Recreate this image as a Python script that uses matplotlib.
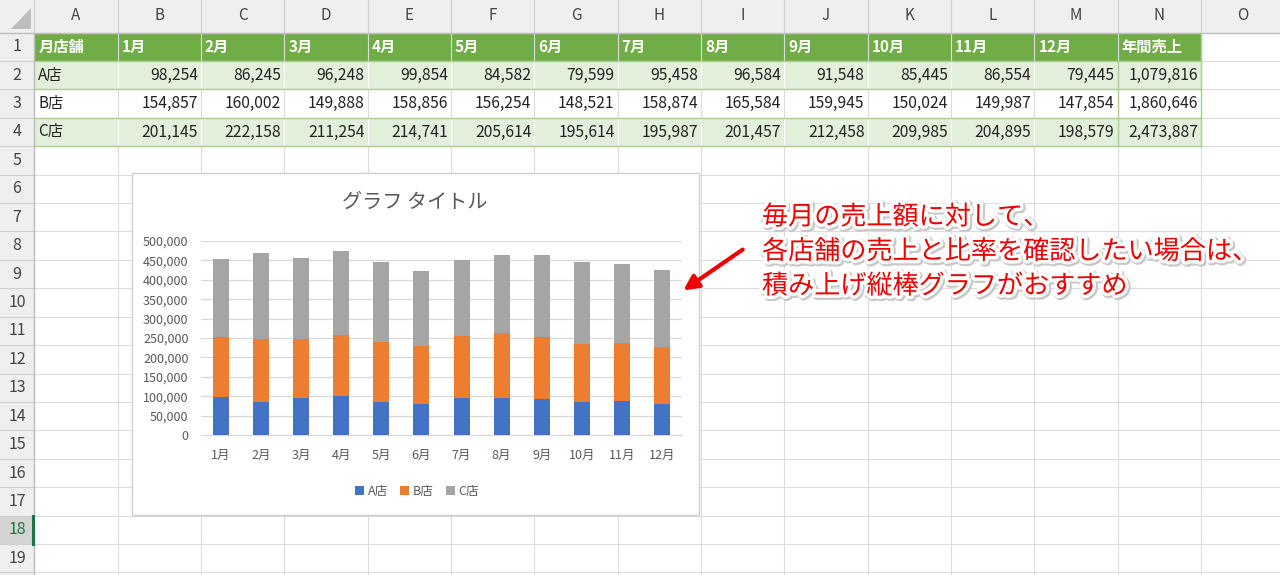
import matplotlib.pyplot as plt
import matplotlib.patheffects as pe
from matplotlib.patches import Rectangle, Polygon, Patch
from matplotlib.ticker import FuncFormatter
import numpy as np

plt.rcParams['font.family'] = ['Noto Sans CJK JP', 'DejaVu Sans']

# --- data ---
months = ['1月', '2月', '3月', '4月', '5月', '6月', '7月', '8月', '9月', '10月', '11月', '12月']
stores = ['A店', 'B店', 'C店']
sales_a = [98254, 86245, 96248, 99854, 84582, 79599, 95458, 96584, 91548, 85445, 86554, 79445]
sales_b = [154857, 160002, 149888, 158856, 156254, 148521, 158874, 165584, 159945, 150024, 149987, 147854]
sales_c = [201145, 222158, 211254, 214741, 205614, 195614, 195987, 201457, 212458, 209985, 204895, 198579]
col_letters = list('ABCDEFGHIJKLMNO')
header_row = ['月店舗'] + months + ['年間売上']
chart_title = 'グラフ タイトル'
note_lines = ['毎月の売上額に対して、', '各店舗の売上と比率を確認したい場合は、', '積み上げ縦棒グラフがおすすめ']
store_colors = ['#4472C4', '#ED7D31', '#A5A5A5']

# sheet geometry in pixels
COL0, COLW = 34.3, 83.33
ROW0, ROWH = 32.5, 28.42
NROWS = 19

fig = plt.figure(figsize=(12.8, 5.75), dpi=100)
bg = fig.add_axes([0, 0, 1, 1])
bg.set_xlim(0, 1280)
bg.set_ylim(575, 0)
bg.axis('off')

# headers
bg.add_patch(Rectangle((0, 0), 1280, ROW0, fc='#EFEFEF', ec='none'))
bg.add_patch(Rectangle((0, ROW0), COL0, 575 - ROW0, fc='#EFEFEF', ec='none'))
bg.add_patch(Polygon([(31, 8), (31, 29), (11, 29)], fc='#BDBDBD', ec='none'))
sel = 17
bg.add_patch(Rectangle((0, ROW0 + sel * ROWH), COL0, ROWH, fc='#D4D4D4', ec='none'))

for k in range(16):
    x = COL0 + k * COLW
    bg.plot([x, x], [0, ROW0], color='#D0D0D0', lw=0.8)
    bg.plot([x, x], [ROW0, 575], color='#DCDCDC', lw=0.8)
for k in range(NROWS + 1):
    y = ROW0 + k * ROWH
    bg.plot([0, COL0], [y, y], color='#D0D0D0', lw=0.8)
    bg.plot([COL0, 1280], [y, y], color='#DCDCDC', lw=0.8)
bg.plot([0, 1280], [ROW0, ROW0], color='#BDBDBD', lw=1)
bg.plot([COL0, COL0], [ROW0, 575], color='#BDBDBD', lw=1)
bg.plot([COL0 - 1, COL0 - 1], [ROW0 + sel * ROWH, ROW0 + (sel + 1) * ROWH], color='#217346', lw=2.2)

for k, c in enumerate(col_letters):
    bg.text(COL0 + (k + 0.5) * COLW, 16, c, ha='center', va='center', fontsize=11, color='#444444')
for k in range(NROWS):
    bg.text(17, ROW0 + (k + 0.5) * ROWH, str(k + 1), ha='center', va='center', fontsize=11.5,
            color='#217346' if k == sel else '#444444')

# table
ncol = len(header_row)
right = COL0 + ncol * COLW
bg.add_patch(Rectangle((COL0, ROW0), ncol * COLW, ROWH, fc='#70AD47', ec='none'))
for r in (1, 3):
    bg.add_patch(Rectangle((COL0, ROW0 + r * ROWH), ncol * COLW, ROWH, fc='#E2EFDA', ec='none'))
    for k in range(1, ncol - 1):
        x = COL0 + k * COLW
        bg.plot([x, x], [ROW0 + r * ROWH, ROW0 + (r + 1) * ROWH], color='white', lw=0.8)
for r in range(1, 5):
    y = ROW0 + r * ROWH
    bg.plot([COL0, right], [y, y], color='#A9D08E', lw=1)
bg.plot([right - COLW, right - COLW], [ROW0 + ROWH, ROW0 + 4 * ROWH], color='#A9D08E', lw=1)
bg.plot([right, right], [ROW0, ROW0 + 4 * ROWH], color='#A9D08E', lw=1)

for k, h in enumerate(header_row):
    bg.text(COL0 + k * COLW + 4, ROW0 + 0.5 * ROWH, h, ha='left', va='center',
            fontsize=11, fontweight='bold', color='white')
for r, (name, vals) in enumerate(zip(stores, [sales_a, sales_b, sales_c])):
    yc = ROW0 + (r + 1.5) * ROWH
    bg.text(COL0 + 4, yc, name, ha='left', va='center', fontsize=11, color='#222222')
    for k, v in enumerate(list(vals) + [sum(vals)]):
        bg.text(COL0 + (k + 2) * COLW - 3, yc, f'{v:,}', ha='right', va='center',
                fontsize=11.3, color='#222222')

# chart frame and title
bg.add_patch(Rectangle((132, 173), 567, 342, fc='white', ec='#D0D0D0', lw=1, zorder=3))
bg.text(415, 202, chart_title, ha='center', va='center', fontsize=14.5, color='#595959', zorder=4)

# annotation
fx = [pe.Stroke(linewidth=6, foreground='#C8C8C8', offset=(1, -1)),
      pe.Stroke(linewidth=5, foreground='white'), pe.Normal()]
for i, line in enumerate(note_lines):
    bg.text(762, 217 + i * 34.5, line, ha='left', va='center', fontsize=18.8, color='#EE0000',
            path_effects=fx, zorder=5)
bg.annotate('', xy=(681, 292), xytext=(745, 248), zorder=6,
            arrowprops=dict(arrowstyle='-|>', color='#EE0000', lw=3, mutation_scale=22))

# stacked chart
ax = fig.add_axes([201 / 1280, (575 - 435) / 575, 481 / 1280, 194 / 575])
ax.set_facecolor('none')
x = np.arange(len(months))
bottom = np.zeros(len(months))
for vals, col in zip([sales_a, sales_b, sales_c], store_colors):
    ax.bar(x, vals, width=0.4, bottom=bottom, color=col, zorder=3)
    bottom += np.array(vals)
ax.set_xlim(-0.5, len(months) - 0.5)
ax.set_ylim(0, 500000)
ax.set_yticks(np.arange(0, 500001, 50000))
ax.yaxis.set_major_formatter(FuncFormatter(lambda v, p: f'{int(v):,}'))
ax.set_xticks(x)
ax.set_xticklabels(months)
ax.grid(axis='y', color='#D9D9D9', lw=0.9, zorder=0)
for s in ['top', 'left', 'right']:
    ax.spines[s].set_visible(False)
ax.spines['bottom'].set_color('#D9D9D9')
ax.tick_params(length=0, labelsize=9, labelcolor='#595959')
ax.tick_params(axis='y', pad=9)
ax.tick_params(axis='x', pad=10)

handles = [Patch(fc=c, ec='none') for c in store_colors]
ax.legend(handles, stores, loc='center', bbox_to_anchor=(417 / 1280, (575 - 491) / 575),
          bbox_transform=fig.transFigure, ncol=3, frameon=False, fontsize=9,
          handlelength=0.7, handleheight=0.7, handletextpad=0.3, columnspacing=1.0,
          labelcolor='#595959')

fig.savefig('out.png', dpi=100)
